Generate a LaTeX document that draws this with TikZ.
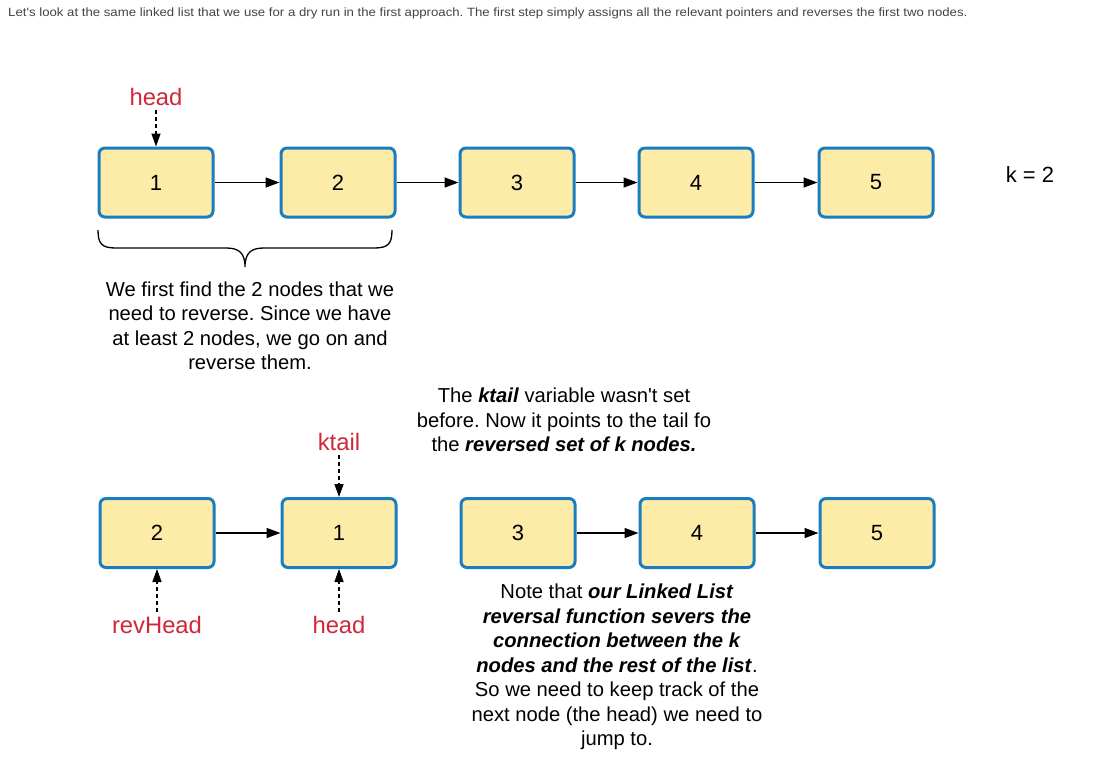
\documentclass[tikz,border=0pt]{standalone}
\usepackage{fontspec}
\setmainfont{Liberation Sans}
\usetikzlibrary{arrows.meta}
\definecolor{boxblue}{HTML}{1A7DC0}
\definecolor{boxfill}{HTML}{FDECA8}
\definecolor{lblred}{HTML}{D0283A}
\definecolor{hdrgray}{HTML}{444444}
\frenchspacing
\tikzset{
  lnode/.style={draw=boxblue, line width=3pt, fill=boxfill, rounded corners=6pt,
    minimum width=114pt, minimum height=69pt, inner sep=0pt,
    font=\fontsize{22}{26}\selectfont},
  link/.style={line width=1.5pt, -{Triangle[length=14pt,width=10pt]}},
  ptr/.style={line width=1.5pt, dash pattern=on 4pt off 3pt, -{Triangle[length=13pt,width=9pt]}},
  ptrlbl/.style={text=lblred, font=\fontsize{23.8}{28}\selectfont, inner sep=1pt},
  body/.style={align=center, font=\fontsize{20.2}{24.5}\selectfont, inner sep=0pt}
}
\begin{document}
\begin{tikzpicture}[x=1pt,y=-1pt]
\useasboundingbox[fill=white] (0,0) rectangle (1095,761);
\node[anchor=west, text=hdrgray, inner sep=0pt, font=\fontsize{12}{14}\selectfont] (hdr) at (8,13) {\scalebox{1.1}[1]{Let\textquotesingle s look at the same linked list that we use for a dry run in the first approach. The first step simply assigns all the relevant pointers and reverses the first two nodes.}};
% top row
\node[lnode] (a1) at (156,182.5) {1};
\node[lnode] (a2) at (338,182.5) {2};
\node[lnode] (a3) at (517,182.5) {3};
\node[lnode] (a4) at (696,182.5) {4};
\node[lnode] (a5) at (876,182.5) {5};
\draw[link] (a1) -- (a2);
\draw[link] (a2) -- (a3);
\draw[link] (a3) -- (a4);
\draw[link] (a4) -- (a5);
\node[ptrlbl] (hd) at (156,97) {head};
\draw[ptr] (hd.south) ++(0,3) coordinate (hds) -- (a1.north);
\node[font=\fontsize{22}{26}\selectfont, inner sep=0pt] (k) at (1030,175) {k = 2};
\draw[line width=1.3pt] (98,230) .. controls (98,244) and (102,248) .. (116,248) -- (226,248)
  .. controls (238,248) and (245,252) .. (245,267)
  .. controls (245,252) and (252,248) .. (264,248) -- (374,248)
  .. controls (388,248) and (392,244) .. (392,230);
\node[body] (t1) at (250,326) {We first find the 2 nodes that we\\need to reverse. Since we have\\at least 2 nodes, we go on and\\reverse them.};
% bottom row
\node[lnode] (b2) at (157,533) {2};
\node[lnode] (b1) at (339,533) {1};
\node[lnode] (b3) at (518,533) {3};
\node[lnode] (b4) at (697,533) {4};
\node[lnode] (b5) at (877,533) {5};
\draw[link] (b2) -- (b1);
\draw[link] (b3) -- (b4);
\draw[link] (b4) -- (b5);
\node[ptrlbl] (kt) at (339,442) {ktail};
\draw[ptr] (kt.south) ++(0,3) -- (b1.north);
\node[ptrlbl] (rh) at (157,625) {revHead};
\draw[ptr] (rh.north) ++(0,-3) -- (b2.south);
\node[ptrlbl] (h2) at (339,625) {head};
\draw[ptr] (h2.north) ++(0,-3) -- (b1.south);
\node[body] (t2) at (564,420) {The \textbf{\textit{ktail}} variable wasn\textquotesingle t set\\before. Now it points to the tail fo\\the \textbf{\textit{reversed set of k nodes.}}};
\node[body] (t3) at (617,667) {Note that \textbf{\textit{our Linked List}}\\\textbf{\textit{reversal function severs the}}\\\textbf{\textit{connection between the k}}\\\textbf{\textit{nodes and the rest of the list}}.\\So we need to keep track of the\\next node (the head) we need to\\jump to.};
\end{tikzpicture}
\end{document}
